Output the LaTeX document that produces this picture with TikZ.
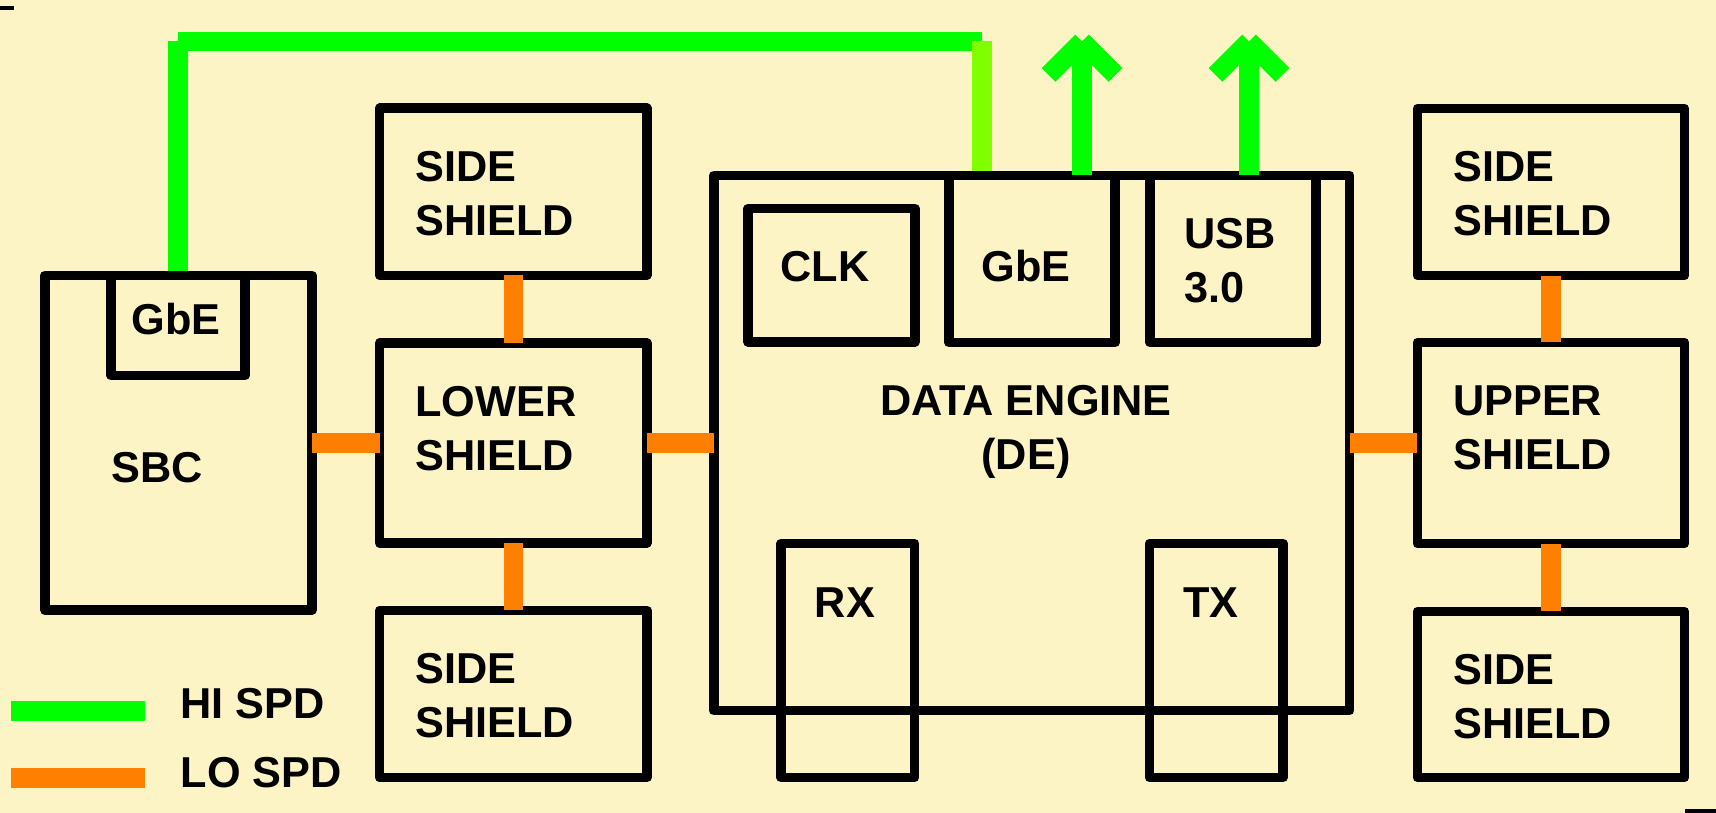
\documentclass[tikz,border=0pt]{standalone}
\usepackage{fontspec}
\setmainfont{Liberation Sans}
\usetikzlibrary{positioning}

\definecolor{paper}{HTML}{FDF4C6}
\definecolor{hispd}{HTML}{00FF00}
\definecolor{hispdlt}{HTML}{80FF00}
\definecolor{lospd}{HTML}{FF8000}

\tikzset{
  blk/.style={draw=black, line width=2.7pt, line join=round, inner sep=0pt, outer sep=0pt},
  shieldbox/.style={blk, minimum width=2.67cm, minimum height=1.67cm},
  lbl/.style={inner sep=0pt, align=left, font=\fontsize{12.3pt}{15.4pt}\selectfont\bfseries},
  hilink/.style={draw=hispd, line width=5.5pt},
  lolink/.style={draw=lospd, line width=5.5pt},
}

\begin{document}
\begin{tikzpicture}[x=0.01cm, y=-0.01cm]
  \fill[paper] (0,0) rectangle (1716,813);
  \useasboundingbox (0,0) rectangle (1716,813);

  % single board computer
  \node[blk, minimum width=2.67cm, minimum height=3.345cm] (sbc) at (178.5,442.75) {};
  \node[blk, minimum width=1.34cm, minimum height=1cm] (sbcgbe) at (178,325.5) {};
  \node[lbl, anchor=base] (sbctxt) at (157,483) {SBC};
  \node[lbl, anchor=base] (sbcgbetxt) at (176,335) {GbE};

  % shields, left column (base = last line)
  \node[shieldbox] (sidelt) at (513.25,191.75) {};
  \node[shieldbox, minimum height=2cm] (lower) at (513.25,443) {};
  \node[shieldbox] (sidelb) at (513.25,694) {};
  \node[lbl, anchor=base west] (sidelttxt) at ([shift={(35,127.5)}]sidelt.north west) {SIDE\\SHIELD};
  \node[lbl, anchor=base west] (lowertxt) at ([shift={(35,127.5)}]lower.north west) {LOWER\\SHIELD};
  \node[lbl, anchor=base west] (sidelbtxt) at ([shift={(35,127.5)}]sidelb.north west) {SIDE\\SHIELD};

  % data engine
  \node[blk, minimum width=6.355cm, minimum height=5.35cm] (de) at (1031.75,443) {};
  \node[blk, minimum width=1.67cm, minimum height=1.335cm] (clk) at (831.5,275.25) {};
  \node[blk, minimum width=1.66cm, minimum height=1.67cm] (degbe) at (1032,259) {};
  \node[blk, minimum width=1.66cm, minimum height=1.67cm] (usb) at (1233,259) {};
  \node[blk, minimum width=1.335cm, minimum height=2.34cm] (rx) at (847.75,660.5) {};
  \node[blk, minimum width=1.335cm, minimum height=2.34cm] (tx) at (1216.25,660.5) {};
  \node[lbl, anchor=base] (clktxt) at (825,282) {CLK};
  \node[lbl, anchor=base] (degbetxt) at (1026,282) {GbE};
  \node[lbl, anchor=base west] (usbtxt) at (1184,303) {USB\\3.0};
  \node[lbl, anchor=base, align=center] (detxt) at (1026,470) {DATA ENGINE\\(DE)};
  \node[lbl, anchor=base] (rxtxt) at (845,617) {RX};
  \node[lbl, anchor=base] (txtxt) at (1211,617) {TX};

  % shields, right column
  \node[shieldbox] (sidert) at (1551,192) {};
  \node[shieldbox, minimum height=2.01cm] (upper) at (1551,443) {};
  \node[shieldbox, minimum height=1.66cm] (siderb) at (1551,694.5) {};
  \node[lbl, anchor=base west] (siderttxt) at ([shift={(35,127.5)}]sidert.north west) {SIDE\\SHIELD};
  \node[lbl, anchor=base west] (uppertxt) at ([shift={(35,127.5)}]upper.north west) {UPPER\\SHIELD};
  \node[lbl, anchor=base west] (siderbtxt) at ([shift={(35,127.5)}]siderb.north west) {SIDE\\SHIELD};

  % low speed links
  \draw[lolink] (lower.west -| sbc.east) -- (lower.west);
  \draw[lolink] (lower.east) -- (de.west);
  \draw[lolink] (de.east) -- (upper.west);
  \draw[lolink] (sidelt.south) -- (lower.north);
  \draw[lolink] (lower.south) -- (sidelb.north);
  \draw[lolink] (sidert.south) -- (upper.north);
  \draw[lolink] (upper.south) -- (siderb.north);

  % high speed links
  \coordinate (hitop) at (178,41.5);
  \coordinate (hiturn) at (982,41.5);
  \draw[hilink, shorten >=1.35pt] (hitop) -- (sbcgbe.north);
  \draw[hilink] (hitop) -- (hiturn);
  \draw[hilink, draw=hispdlt, shorten >=1.35pt] (hiturn) -- (hiturn |- de.north);

  \coordinate (gbeout) at ([shift={(50,0)}]degbe.north);
  \coordinate (usbout) at ([shift={(16,0)}]usb.north);
  \foreach \p in {gbeout,usbout} {
    \draw[hilink] (\p) -- ([shift={(0,-134)}]\p) coordinate (tip);
    \draw[hilink] ([shift={(-33.5,33.5)}]tip) -- (tip);
    \draw[hilink] ([shift={(33.5,33.5)}]tip) -- (tip);
  }

  % key
  \node[lbl, anchor=base west] (hikey) at (180,718) {HI SPD};
  \node[lbl, anchor=base west] (lokey) at (180,787) {LO SPD};
  \draw[hilink] ([shift={(-35,-7)}]hikey.base west) -- ++(-134,0);
  \draw[lolink] ([shift={(-35,-9)}]lokey.base west) -- ++(-134,0);

  % slide edge marks
  \draw[line width=1pt] (0,8) -- (14,8);
  \draw[line width=1pt] (1685,811) -- (1716,811);
\end{tikzpicture}
\end{document}
